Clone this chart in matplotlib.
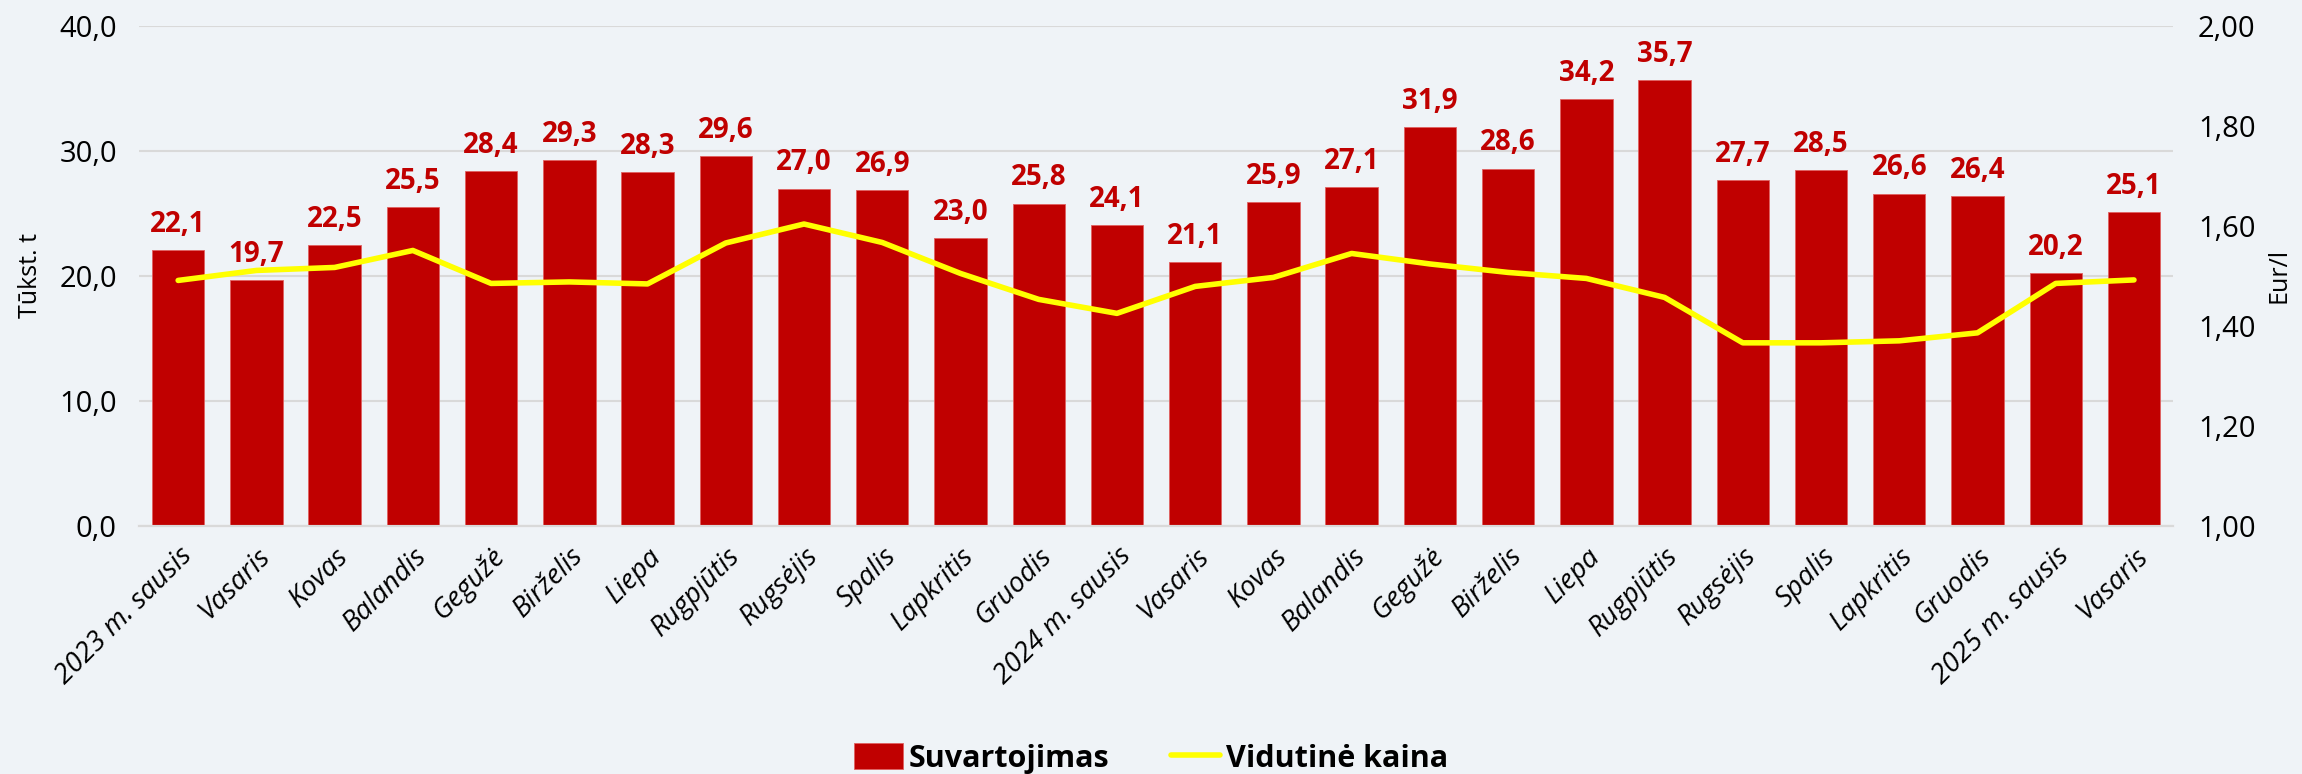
import matplotlib.pyplot as plt
import numpy as np

# Mėnesiai
months = ['2023 m. sausis', 'Vasaris', 'Kovas', 'Balandis', 'Gegužė', 'Birželis',
          'Liepa', 'Rugpjūtis', 'Rugsėjis', 'Spalis', 'Lapkritis', 'Gruodis',
          '2024 m. sausis', 'Vasaris', 'Kovas', 'Balandis', 'Gegužė', 'Birželis',
          'Liepa', 'Rugpjūtis', 'Rugsėjis', 'Spalis', 'Lapkritis', 'Gruodis',
          '2025 m. sausis', 'Vasaris']

# Suvartojimas, tūkst. t
consumption = [22.1, 19.7, 22.5, 25.5, 28.4, 29.3, 28.3, 29.6, 27.0, 26.9, 23.0, 25.8,
               24.1, 21.1, 25.9, 27.1, 31.9, 28.6, 34.2, 35.7, 27.7, 28.5, 26.6, 26.4,
               20.2, 25.1]

# Vidutinė kaina, Eur/l
price = [1.491, 1.511, 1.517, 1.551, 1.485, 1.488, 1.484, 1.566, 1.604, 1.567, 1.505, 1.453,
         1.425, 1.479, 1.497, 1.545, 1.524, 1.507, 1.495, 1.457, 1.366, 1.366, 1.370, 1.386,
         1.485, 1.492]

left_ticks = [0, 10, 20, 30, 40]
right_ticks = [1.0, 1.2, 1.4, 1.6, 1.8, 2.0]

bar_color = '#C00000'
line_color = '#FFFF00'
bg = '#EFF3F7'

plt.rcParams['font.family'] = ['Open Sans', 'DejaVu Sans']

fig = plt.figure(figsize=(23.02, 7.74), dpi=100, facecolor=bg)
ax = fig.add_axes([0.0604, 0.321, 0.8836, 0.645])
ax.set_facecolor(bg)
ax2 = ax.twinx()

x = np.arange(len(months))
bars = ax.bar(x, consumption, width=0.67, color=bar_color, edgecolor='#E06060',
              linewidth=0.6, zorder=2, label='Suvartojimas')

for xi, v in zip(x, consumption):
    ax.annotate(f'{v:.1f}'.replace('.', ','), (xi, v), xytext=(0, 8),
                textcoords='offset points', ha='center', va='bottom',
                fontsize=20, fontweight='bold', color=bar_color)

line, = ax2.plot(x, price, color=line_color, linewidth=4, solid_capstyle='round',
                 zorder=3, label='Vidutinė kaina')

ax.set_xlim(-0.5, len(months) - 0.5)
ax.set_ylim(0, 40)
ax2.set_ylim(1.0, 2.0)

ax.set_yticks(left_ticks)
ax.set_yticklabels([f'{t:.1f}'.replace('.', ',') for t in left_ticks], fontsize=21)
ax2.set_yticks(right_ticks)
ax2.set_yticklabels([f'{t:.2f}'.replace('.', ',') for t in right_ticks], fontsize=21)

ax.set_xticks(x)
ax.set_xticklabels(months, rotation=45, ha='right', rotation_mode='anchor',
                   fontsize=20, fontstyle='italic')

ax.grid(axis='y', color='#D9D9D9', linewidth=1.5, zorder=0)
ax.set_axisbelow(True)
for a in (ax, ax2):
    for s in ('top', 'left', 'right'):
        a.spines[s].set_visible(False)
    a.spines['bottom'].set_color('#D9D9D9')
    a.spines['bottom'].set_linewidth(1.5)
    a.tick_params(length=0)
ax.tick_params(axis='x', pad=12)
ax.tick_params(axis='y', pad=16)
ax2.tick_params(axis='y', pad=18)

ax.set_ylabel('Tūkst. t', fontsize=18, labelpad=12)
ax2.set_ylabel('Eur/l', fontsize=18, labelpad=8)

fig.legend([bars, line], ['Suvartojimas', 'Vidutinė kaina'], loc='lower center',
           bbox_to_anchor=(0.5, -0.035), ncol=2, frameon=False,
           prop={'weight': 'bold', 'size': 22}, handlelength=1.6, handleheight=0.9,
           handletextpad=0.2, columnspacing=2.0)

fig.savefig('out.png', dpi=100, facecolor=bg)
